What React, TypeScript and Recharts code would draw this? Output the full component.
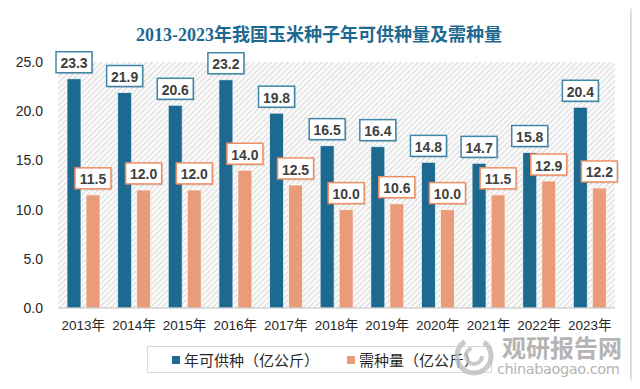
import React from "react";
import { BarChart, Bar, XAxis, YAxis, CartesianGrid, LabelList } from "recharts";

const years = ["2013年", "2014年", "2015年", "2016年", "2017年", "2018年", "2019年", "2020年", "2021年", "2022年", "2023年"];
const supply = [23.3, 21.9, 20.6, 23.2, 19.8, 16.5, 16.4, 14.8, 14.7, 15.8, 20.4];
const demand = [11.5, 12.0, 12.0, 14.0, 12.5, 10.0, 10.6, 10.0, 11.5, 12.9, 12.2];
const yTicks = [0, 5, 10, 15, 20, 25];

const SUPPLY_NAME = "年可供种（亿公斤）";
const DEMAND_NAME = "需种量（亿公斤）";
const BLUE = "#1d6990";
const BLUE_EDGE = "#3f86a8";
const ORANGE = "#e99c7a";
const ORANGE_EDGE = "#ef8f63";

const data = years.map((year, i) => ({ year, supply: supply[i], demand: demand[i] }));

function boxLabel(edge: string) {
  return (props: any) => {
    const { x, y, width, value } = props;
    const cx = Number(x) + Number(width) / 2;
    const w = 36, h = 21;
    const top = Number(y) - 6 - h;
    return (
      <g>
        <rect x={cx - w / 2 + 1.5} y={top + 1.5} width={w} height={h} fill="rgba(0,0,0,0.12)" />
        <rect x={cx - w / 2} y={top} width={w} height={h} fill="#fff" stroke={edge} strokeWidth={1.5} />
        <text x={cx} y={top + h / 2 + 1} textAnchor="middle" dominantBaseline="central"
          fontSize={14} fontWeight="bold" fill="#404040" fontFamily="Liberation Sans, sans-serif">
          {Number(value).toFixed(1)}
        </text>
      </g>
    );
  };
}

export default function App() {
  return (
    <div style={{ margin: -8, width: 640, height: 389, background: "#fff", position: "relative", overflow: "hidden" }}>
      <svg width={0} height={0} style={{ position: "absolute" }}>
        <defs>
          <pattern id="hatch" width="4" height="4" patternUnits="userSpaceOnUse" patternTransform="rotate(45)">
            <rect width="4" height="4" fill="#fafafa" />
            <line x1="0" y1="0" x2="0" y2="4" stroke="#cdcdcd" strokeWidth="1.4" />
          </pattern>
        </defs>
      </svg>
      <div style={{ position: "absolute", left: 8, top: 8, width: 622, height: 374, background: "#fff", boxShadow: "0 0 7px rgba(0,0,0,0.35)" }}>
        <div style={{ position: "absolute", left: 0, top: 12, width: 622, textAlign: "center", fontSize: 18, fontWeight: "bold",
          color: BLUE, fontFamily: "'Liberation Serif', 'Noto Sans CJK SC', serif" }}>
          2013-2023年我国玉米种子年可供种量及需种量
        </div>
        <BarChart width={622} height={374} data={data} margin={{ top: 54, right: 15, left: 0, bottom: 44 }}
          barSize={14} barGap={5} barCategoryGap={0}>
          <CartesianGrid stroke="none" fill="url(#hatch)" fillOpacity={1} />
          <XAxis dataKey="year" axisLine={{ stroke: "#bfbfbf" }} tickLine={false} tickSize={6} tickMargin={6}
            tick={{ fontSize: 13.5, fill: "#262626", fontFamily: "'Liberation Sans', 'Noto Sans CJK SC', sans-serif" }} interval={0} />
          <YAxis domain={[0, 25]} ticks={yTicks} width={50} axisLine={false} tickLine={false} tickSize={6} tickMargin={9}
            tickFormatter={(v: number) => v.toFixed(1)}
            tick={{ fontSize: 14, fill: "#262626", fontFamily: "Liberation Sans, sans-serif" }} />
          <Bar dataKey="supply" name={SUPPLY_NAME} fill={BLUE} stroke="rgba(255,255,255,0.7)" strokeWidth={1} isAnimationActive={false}>
            <LabelList dataKey="supply" content={boxLabel(BLUE_EDGE)} />
          </Bar>
          <Bar dataKey="demand" name={DEMAND_NAME} fill={ORANGE} stroke="rgba(255,255,255,0.7)" strokeWidth={1} isAnimationActive={false}>
            <LabelList dataKey="demand" content={boxLabel(ORANGE_EDGE)} />
          </Bar>
        </BarChart>
        <div style={{ position: "absolute", left: 139, top: 338, width: 343, height: 25, border: "1px solid #d9d9d9",
          display: "flex", alignItems: "center", fontSize: 15, color: "#262626", fontFamily: "'Noto Sans CJK SC', sans-serif" }}>
          <span style={{ display: "inline-block", width: 8, height: 8, background: BLUE, marginLeft: 24, marginRight: 4 }} />
          <span>{SUPPLY_NAME}</span>
          <span style={{ display: "inline-block", width: 8, height: 8, background: ORANGE, marginLeft: 28, marginRight: 4 }} />
          <span>{DEMAND_NAME}</span>
        </div>
        <svg style={{ position: "absolute", left: 445, top: 326 }} width={42} height={44}>
          <circle cx={21} cy={22} r={17} fill="none" stroke="#bdbdbd" strokeWidth={5} strokeDasharray="70 20" opacity={0.8} />
          <circle cx={21} cy={22} r={8} fill="none" stroke="#bdbdbd" strokeWidth={4} strokeDasharray="35 15" opacity={0.8} />
        </svg>
        <div style={{ position: "absolute", left: 494, top: 328, fontSize: 24, fontWeight: "bold", color: "#a8a8a8",
          fontFamily: "'Noto Sans CJK SC', sans-serif", lineHeight: "22px", opacity: 0.85 }}>
          观研报告网
        </div>
        <div style={{ position: "absolute", left: 489, top: 354, fontSize: 14.5, color: "#a8a8a8",
          fontFamily: "'DejaVu Sans', sans-serif", lineHeight: "14px", letterSpacing: -0.4, opacity: 0.85 }}>
          chinabaogao.com
        </div>
      </div>
    </div>
  );
}
